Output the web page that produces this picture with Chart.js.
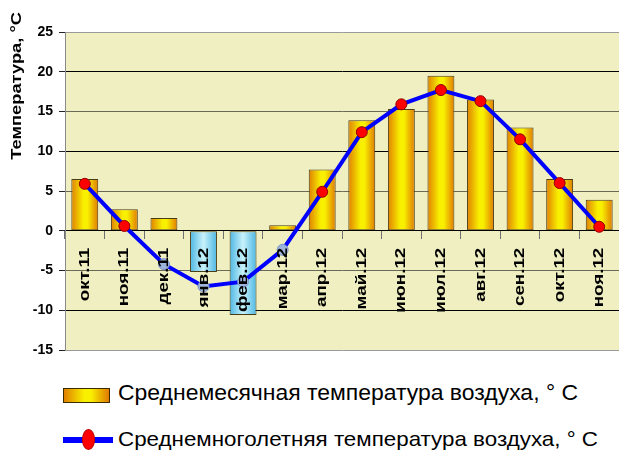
<!DOCTYPE html>
<html lang="ru">
<head>
    <meta charset="UTF-8">
    <title>Температура воздуха</title>
    <style>
        body { margin: 0; background: #fff; }
        .wrap { position: relative; width: 619px; height: 450px; overflow: hidden; }
        #chartBox { position: absolute; left: 0; top: 0; width: 619px; height: 360px; }
        .lg { position: absolute; white-space: nowrap; color: #000; }
        .lg-box {
            left: 63px; top: 388px; width: 45px; height: 13px;
            border: 1px solid #3b2c00;
            background: linear-gradient(to right, #e08000, #f8f000 45%, #f8f000 60%, #e07a00);
        }
        .lg-line { left: 63px; top: 437px; width: 50px; height: 6px; background: #0000ff; }
        .lg-dot { left: 82px; top: 429px; width: 11px; height: 19px; border-radius: 50%; background: #ff0000; border: 1px solid #c00000; }
        .lg-text1 { left: 118px; top: 382px; font: 22px/22px "Liberation Sans", Arial, sans-serif; transform-origin: 0 0; }
        .lg-text2 { left: 118px; top: 428px; font: 21px/21px "Liberation Sans", Arial, sans-serif; transform-origin: 0 0; }
    </style>
    <script src="https://cdn.jsdelivr.net/npm/chart.js@4"></script>
</head>
<body>
<div class="wrap">
    <div id="chartBox"><canvas id="tempChart" width="619" height="360"></canvas></div>
    <div class="lg lg-box"></div>
    <div class="lg lg-text1" id="lgText1">Среднемесячная температура воздуха, ° С</div>
    <div class="lg lg-line"></div>
    <div class="lg lg-dot"></div>
    <div class="lg lg-text2" id="lgText2">Среднемноголетняя температура воздуха, ° С</div>
</div>

<script>
    // data
    const months = ['окт.11', 'ноя.11', 'дек.11', 'янв.12', 'фев.12', 'мар.12', 'апр.12',
                    'май.12', 'июн.12', 'июл.12', 'авг.12', 'сен.12', 'окт.12', 'ноя.12'];
    const monthlyTemp = [6.5, 2.7, 1.6, -5.2, -10.6, 0.7, 7.7, 13.9, 15.3, 19.5, 16.5, 13.0, 6.5, 3.9];
    const normalTemp = [5.9, 0.6, -4.2, -7.0, -6.4, -2.4, 4.9, 12.4, 15.9, 17.7, 16.3, 11.5, 6.0, 0.5];
    const yMin = -15, yMax = 25, yStep = 5;
    const yTitle = 'Температура, °С';
    const barPct = 0.68;
    const FONT = '"Liberation Sans", Arial, sans-serif';

    // the original picture is stretched a bit vertically, so texts get stretched too
    function fitWidth(id, target) {
        const el = document.getElementById(id);
        const w = el.getBoundingClientRect().width;
        el.style.transform = 'scaleX(' + (target / w) + ')';
    }
    fitWidth('lgText1', 460);
    fitWidth('lgText2', 480);

    // horizontal gradient for each bar (warm above zero, blue below)
    function barFill(context) {
        const chart = context.chart;
        const x = chart.scales.x;
        const warm = context.raw >= 0;
        if (!chart.chartArea || !x) return warm ? '#f0c000' : '#8fd8f0';
        const cx = x.getPixelForValue(context.dataIndex);
        const half = (x.width / months.length) * barPct / 2;
        const g = chart.ctx.createLinearGradient(cx - half, 0, cx + half, 0);
        if (warm) {
            g.addColorStop(0, '#e08000');
            g.addColorStop(0.45, '#f8f000');
            g.addColorStop(0.6, '#f8f000');
            g.addColorStop(1, '#e07a00');
        } else {
            g.addColorStop(0, '#4cb6e4');
            g.addColorStop(0.5, '#c8f2fa');
            g.addColorStop(1, '#4cb6e4');
        }
        return g;
    }

    const plotBg = {
        id: 'plotBg',
        beforeDraw(chart) {
            const a = chart.chartArea;
            const c = chart.ctx;
            c.save();
            c.fillStyle = '#efefc1';
            c.fillRect(a.left, a.top, a.right - a.left, a.bottom - a.top);
            c.restore();
        }
    };

    // rotated month labels just under the zero line, on top of the bars and line
    const monthLabels = {
        id: 'monthLabels',
        afterDatasetsDraw(chart) {
            const c = chart.ctx;
            const x = chart.scales.x, y = chart.scales.y;
            const top = y.getPixelForValue(0) + 17;
            c.save();
            c.font = 'bold 15px ' + FONT;
            c.fillStyle = '#000';
            c.textAlign = 'right';
            c.textBaseline = 'middle';
            months.forEach((m, i) => {
                c.save();
                c.translate(x.getPixelForValue(i), top);
                c.rotate(-Math.PI / 2);
                c.scale(1.25, 1);
                c.fillText(m, 0, 0);
                c.restore();
            });
            c.restore();
        }
    };

    const yTitlePlugin = {
        id: 'yTitle',
        afterDraw(chart) {
            const c = chart.ctx;
            c.save();
            c.translate(17, 12);
            c.rotate(-Math.PI / 2);
            c.scale(1.22, 1);
            c.font = 'bold 15px ' + FONT;
            c.textAlign = 'right';
            c.textBaseline = 'middle';
            c.fillStyle = '#000';
            c.fillText(yTitle, 0, 0);
            c.restore();
        }
    };

    const ctx = document.getElementById('tempChart').getContext('2d');
    const chart = new Chart(ctx, {
        data: {
            labels: months,
            datasets: [
                {
                    type: 'line',
                    label: 'Среднемноголетняя температура воздуха, ° С',
                    data: normalTemp,
                    order: 0,
                    borderColor: '#0000ff',
                    borderWidth: 4,
                    tension: 0,
                    pointRadius: 5.5,
                    pointBorderWidth: 1,
                    pointBackgroundColor: c => c.raw < 0 ? '#9db4dc' : '#ff0000',
                    pointBorderColor: c => c.raw < 0 ? '#7c94c4' : '#900000'
                },
                {
                    type: 'bar',
                    label: 'Среднемесячная температура воздуха, ° С',
                    data: monthlyTemp,
                    order: 1,
                    backgroundColor: barFill,
                    borderColor: '#4a3c14',
                    borderWidth: 1,
                    borderSkipped: false,
                    barPercentage: barPct,
                    categoryPercentage: 1
                }
            ]
        },
        options: {
            responsive: false,
            animation: false,
            layout: { autoPadding: false, padding: { top: 32, bottom: 10, left: 0, right: 0 } },
            plugins: {
                legend: { display: false },
                tooltip: { enabled: false }
            },
            scales: {
                x: {
                    position: { y: 0 },
                    offset: true,
                    afterFit(scale) {
                        scale.paddingLeft = scale.paddingRight = 0;
                        scale.paddingTop = scale.paddingBottom = 0;
                    },
                    grid: { offset: true, drawOnChartArea: false, drawTicks: true, tickLength: 8, tickColor: '#707070' },
                    border: { display: false },
                    ticks: { display: false, autoSkip: false }
                },
                y: {
                    min: yMin, max: yMax,
                    afterFit(scale) {
                        scale.width = 65;
                        scale.paddingTop = scale.paddingBottom = 0;
                    },
                    grid: {
                        color: c => {
                            const v = c.tick.value;
                            if (v === yMax || v === yMin) return '#9a9a9a';
                            return v % 10 === 0 ? '#000000' : '#6a6a58';
                        },
                        tickColor: '#222',
                        tickLength: 6
                    },
                    border: { color: '#8a8a8a' },
                    ticks: {
                        stepSize: yStep, padding: 6, color: '#000',
                        font: { family: FONT, size: 14, weight: 'bold' }
                    }
                }
            }
        },
        plugins: [plotBg, monthLabels, yTitlePlugin]
    });
</script>
</body>
</html>
